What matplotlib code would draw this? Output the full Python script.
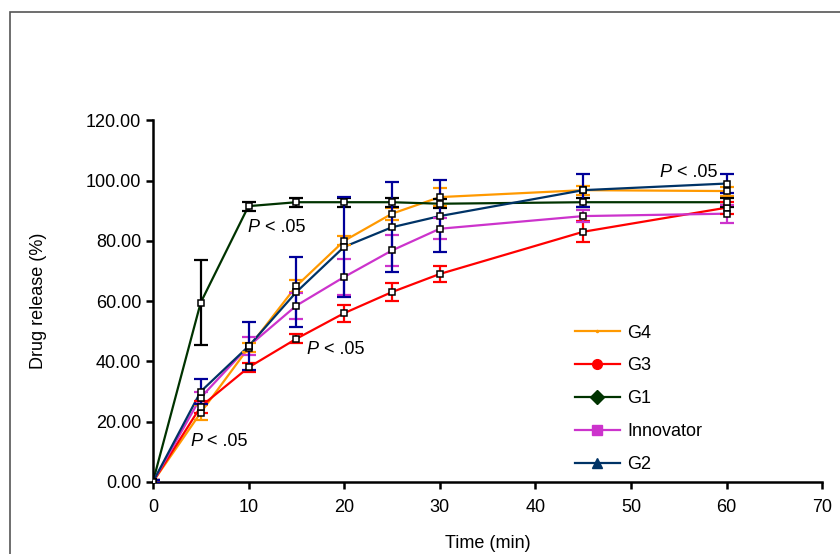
import matplotlib
matplotlib.use("Agg")
import matplotlib.pyplot as plt
from matplotlib.patches import Rectangle
from matplotlib.lines import Line2D

plt.rcParams['font.family'] = ['Liberation Sans', 'DejaVu Sans']

time = [0, 5, 10, 15, 20, 25, 30, 45, 60]

g4 = [0, 23.0, 44.5, 65.0, 80.0, 89.0, 94.5, 96.8, 96.5]
g4_err = [0.5, 2.5, 1.5, 2.0, 1.5, 2.0, 3.0, 1.5, 1.5]

g3 = [0, 25.0, 38.0, 47.5, 56.0, 63.0, 69.0, 83.0, 91.0]
g3_err = [0.5, 2.0, 1.5, 1.5, 2.8, 3.0, 2.5, 3.5, 2.0]

g1 = [0, 59.5, 91.5, 92.8, 92.8, 92.8, 92.3, 92.8, 92.8]
g1_err = [0.5, 14.0, 1.5, 1.5, 1.5, 1.5, 1.5, 1.5, 1.5]

innov = [0, 28.0, 45.0, 58.5, 68.0, 76.8, 84.0, 88.2, 89.0]
innov_err = [0.5, 2.0, 3.0, 4.3, 6.0, 5.0, 3.5, 2.0, 3.0]

g2 = [0, 30.0, 45.0, 63.0, 78.0, 84.5, 88.2, 96.8, 99.0]
g2_err = [0.5, 4.0, 8.0, 11.5, 16.5, 15.0, 12.0, 5.5, 3.0]

series = [
    ("G4", g4, g4_err, "#ff9900", "#ff9900", "."),
    ("G3", g3, g3_err, "#ff0000", "#ff0000", "o"),
    ("G1", g1, g1_err, "#003300", "#000000", "D"),
    ("Innovator", innov, innov_err, "#cc33cc", "#cc33cc", "s"),
    ("G2", g2, g2_err, "#003366", "#000099", "^"),
]

annotations = [(3.9, 13.3), (9.9, 84.5), (16.1, 44.0), (53.0, 102.7)]

fig = plt.figure(figsize=(8.4, 5.54), dpi=100)
ax = fig.add_axes([0.182, 0.130, 0.797, 0.653])

handles = []
for name, vals, errs, lc, ec, mk in series:
    ax.errorbar(time, vals, yerr=errs, fmt='none', ecolor=ec, elinewidth=1.6,
                capsize=5, capthick=1.6, zorder=3)
    ax.plot(time, vals, color=lc, lw=1.6, zorder=2)
    ax.plot(time, vals, linestyle='none', marker='s', ms=4.5, mfc='white',
            mec='black', mew=1.1, zorder=4)
    handles.append(Line2D([0], [0], color=lc, lw=1.6, marker=mk,
                          ms=(3 if mk == '.' else 7), mfc=lc, mec=lc,
                          label=name))

ax.set_xlim(0, 70)
ax.set_ylim(0, 120)
ax.set_xticks(range(0, 71, 10))
ax.set_yticks(range(0, 121, 20))
ax.set_yticklabels([f"{v:.2f}" for v in range(0, 121, 20)])
for s in ['top', 'right']:
    ax.spines[s].set_visible(False)
for s in ['left', 'bottom']:
    ax.spines[s].set_linewidth(1.8)
ax.tick_params(axis='both', direction='out', length=5, width=1.8,
               labelsize=13)
ax.tick_params(axis='x', pad=7)
ax.set_xlabel("Time (min)", fontsize=13, labelpad=14)
ax.set_ylabel("Drug release (%)", fontsize=13, labelpad=28)

for x, y in annotations:
    t = ax.text(x, y, "P", style='italic', fontsize=13, va='center', ha='left')
    ax.annotate(" < .05", xy=(1, 0), xycoords=t, va='bottom', ha='left',
                fontsize=13)

leg = ax.legend(handles=handles, loc='upper left',
                bbox_to_anchor=(0.606, 0.480), frameon=False, fontsize=13,
                handlelength=2.5, handletextpad=0.4, labelspacing=0.88)

fig.patches.append(Rectangle((10 / 840, -0.2), 1.2, 1.2 - 12 / 554,
                             transform=fig.transFigure, fill=False,
                             edgecolor='#555555', lw=1.2))

fig.savefig("out.png", dpi=100)
